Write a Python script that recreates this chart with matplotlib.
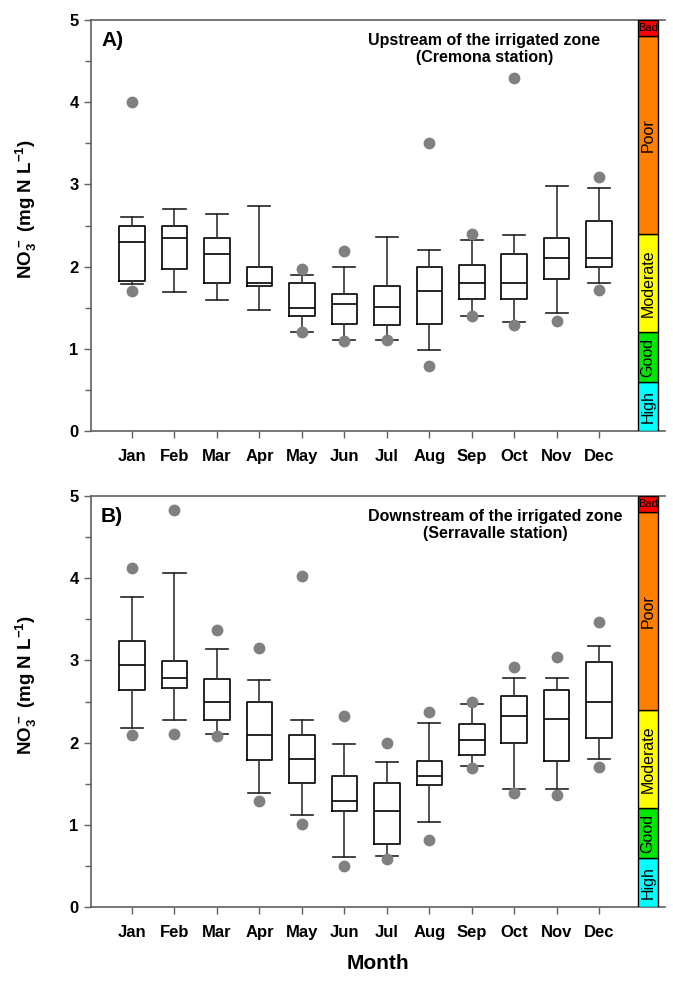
import matplotlib
matplotlib.use("Agg")
import matplotlib.pyplot as plt
from matplotlib.patches import Rectangle
from matplotlib.ticker import MultipleLocator

plt.rcParams['font.family'] = ['Liberation Sans', 'DejaVu Sans']
plt.rcParams['font.weight'] = 'bold'
plt.rcParams['mathtext.fontset'] = 'custom'
plt.rcParams['mathtext.rm'] = 'Liberation Sans:bold'
plt.rcParams['mathtext.bf'] = 'Liberation Sans:bold'
plt.rcParams['mathtext.default'] = 'bf'

months = ['Jan', 'Feb', 'Mar', 'Apr', 'May', 'Jun', 'Jul', 'Aug', 'Sep', 'Oct', 'Nov', 'Dec']

# Panel A - upstream (Cremona station)
up_whishi = [2.60, 2.70, 2.64, 2.74, 1.90, 1.99, 2.36, 2.20, 2.32, 2.38, 2.98, 2.96]
up_q3 = [2.50, 2.50, 2.35, 2.00, 1.80, 1.67, 1.77, 2.00, 2.02, 2.15, 2.35, 2.55]
up_med = [2.30, 2.35, 2.15, 1.80, 1.50, 1.54, 1.51, 1.70, 1.80, 1.80, 2.10, 2.10]
up_q1 = [1.83, 1.97, 1.80, 1.77, 1.40, 1.30, 1.29, 1.30, 1.60, 1.60, 1.85, 2.00]
up_whislo = [1.79, 1.69, 1.59, 1.47, 1.20, 1.11, 1.11, 0.99, 1.40, 1.32, 1.44, 1.80]
up_fliers = [[4.00, 1.70], [], [], [], [1.97, 1.20], [2.19, 1.10], [1.11],
             [3.50, 0.79], [2.40, 1.40], [4.29, 1.29], [1.34], [3.09, 1.71]]

# Panel B - downstream (Serravalle station)
dn_whishi = [3.77, 4.06, 3.14, 2.76, 2.28, 1.98, 1.76, 2.24, 2.47, 2.79, 2.78, 3.18]
dn_q3 = [3.23, 2.99, 2.77, 2.49, 2.09, 1.59, 1.51, 1.78, 2.23, 2.57, 2.64, 2.98]
dn_med = [2.94, 2.79, 2.49, 2.09, 1.80, 1.29, 1.17, 1.59, 2.03, 2.32, 2.29, 2.49]
dn_q1 = [2.64, 2.66, 2.28, 1.79, 1.51, 1.17, 0.77, 1.48, 1.85, 1.99, 1.78, 2.06]
dn_whislo = [2.18, 2.28, 2.10, 1.39, 1.12, 0.61, 0.62, 1.03, 1.72, 1.44, 1.44, 1.80]
dn_fliers = [[4.13, 2.09], [4.83, 2.10], [3.37, 2.08], [3.15, 1.29], [4.03, 1.01],
             [2.32, 0.50], [2.00, 0.59], [2.37, 0.81], [2.49, 1.69], [2.92, 1.39],
             [3.04, 1.36], [3.47, 1.70]]

# Quality classes
class_bounds = [0.0, 0.6, 1.2, 2.4, 4.8, 5.0]
class_names = ['High', 'Good', 'Moderate', 'Poor', 'Bad']
class_colors = ['#00FFFF', '#00E600', '#FFFF00', '#FF8000', '#FF0000']

panel_labels = ['A)', 'B)']
panel_titles = ['Upstream of the irrigated zone\n(Cremona station)',
                'Downstream of the irrigated zone\n(Serravalle station)']

W, H = 673, 981
fig = plt.figure(figsize=(W / 100, H / 100), dpi=100)
ax1 = fig.add_axes([91 / W, 1 - 431 / H, 574 / W, 411 / H])
ax2 = fig.add_axes([91 / W, 1 - 907 / H, 574 / W, 411 / H])

spine_col = '#606060'
datasets = [
    (up_whislo, up_q1, up_med, up_q3, up_whishi, up_fliers),
    (dn_whislo, dn_q1, dn_med, dn_q3, dn_whishi, dn_fliers),
]

for i, (ax, data) in enumerate(zip([ax1, ax2], datasets)):
    wlo, q1, med, q3, whi, fl = data
    stats = []
    for k in range(len(months)):
        stats.append(dict(whislo=wlo[k], q1=q1[k], med=med[k], q3=q3[k],
                          whishi=whi[k], fliers=fl[k], label=months[k]))
    positions = list(range(1, len(months) + 1))
    ax.bxp(stats, positions=positions, widths=0.6, capwidths=0.52,
           showfliers=True,
           boxprops=dict(color='black', linewidth=1.2),
           medianprops=dict(color='black', linewidth=1.2),
           whiskerprops=dict(color='#333333', linewidth=1.2),
           capprops=dict(color='#222222', linewidth=1.2),
           flierprops=dict(marker='o', markerfacecolor='#808080',
                           markeredgecolor='#808080', markersize=7.5))
    ax.set_xlim(0.034, 13.55)
    ax.set_ylim(0, 5)

    # quality class bar
    for lo, hi, name, col in zip(class_bounds[:-1], class_bounds[1:], class_names, class_colors):
        ax.add_patch(Rectangle((12.91, lo), 0.47, hi - lo, facecolor=col,
                               edgecolor='black', linewidth=1.0, zorder=3))
        cx = 12.91 + 0.47 / 2
        if name == 'Bad':
            ax.text(cx, (lo + hi) / 2, name, ha='center', va='center',
                    fontsize=8, fontweight='normal', zorder=4)
        else:
            ax.text(cx, (lo + hi) / 2, name, ha='center', va='center',
                    rotation=90, fontsize=11.5, fontweight='normal', zorder=4)

    ax.spines['right'].set_visible(False)
    for s in ['left', 'top', 'bottom']:
        ax.spines[s].set_color(spine_col)
        ax.spines[s].set_linewidth(1.2)

    ax.set_xticks(positions)
    ax.set_xticklabels(months, fontsize=12, fontweight='bold')
    ax.yaxis.set_major_locator(MultipleLocator(1))
    ax.yaxis.set_minor_locator(MultipleLocator(0.5))
    ax.tick_params(axis='both', which='major', direction='out', length=5,
                   color=spine_col, width=1.0, labelsize=12, pad=4)
    ax.tick_params(axis='y', which='minor', direction='out', length=4,
                   color=spine_col, width=1.0)
    ax.tick_params(axis='x', which='major', pad=8)
    for lab in ax.get_yticklabels():
        lab.set_fontweight('bold')

    ax.set_ylabel('$NO_3^-$ (mg N L$^{-1}$)', fontsize=13.5, fontweight='bold')
    ax.yaxis.set_label_coords(-0.09, 0.54)

    ax.text(0.53, 4.75, panel_labels[i], ha='center', va='center',
            fontsize=15, fontweight='bold')
    ax.text(6.56, 4.65, panel_titles[i], ha='left', va='center',
            multialignment='center', fontsize=11.5, fontweight='bold', linespacing=1.2)

ax2.set_xlabel('Month', fontsize=15, fontweight='bold', labelpad=10)

fig.savefig('out.png', dpi=100)
